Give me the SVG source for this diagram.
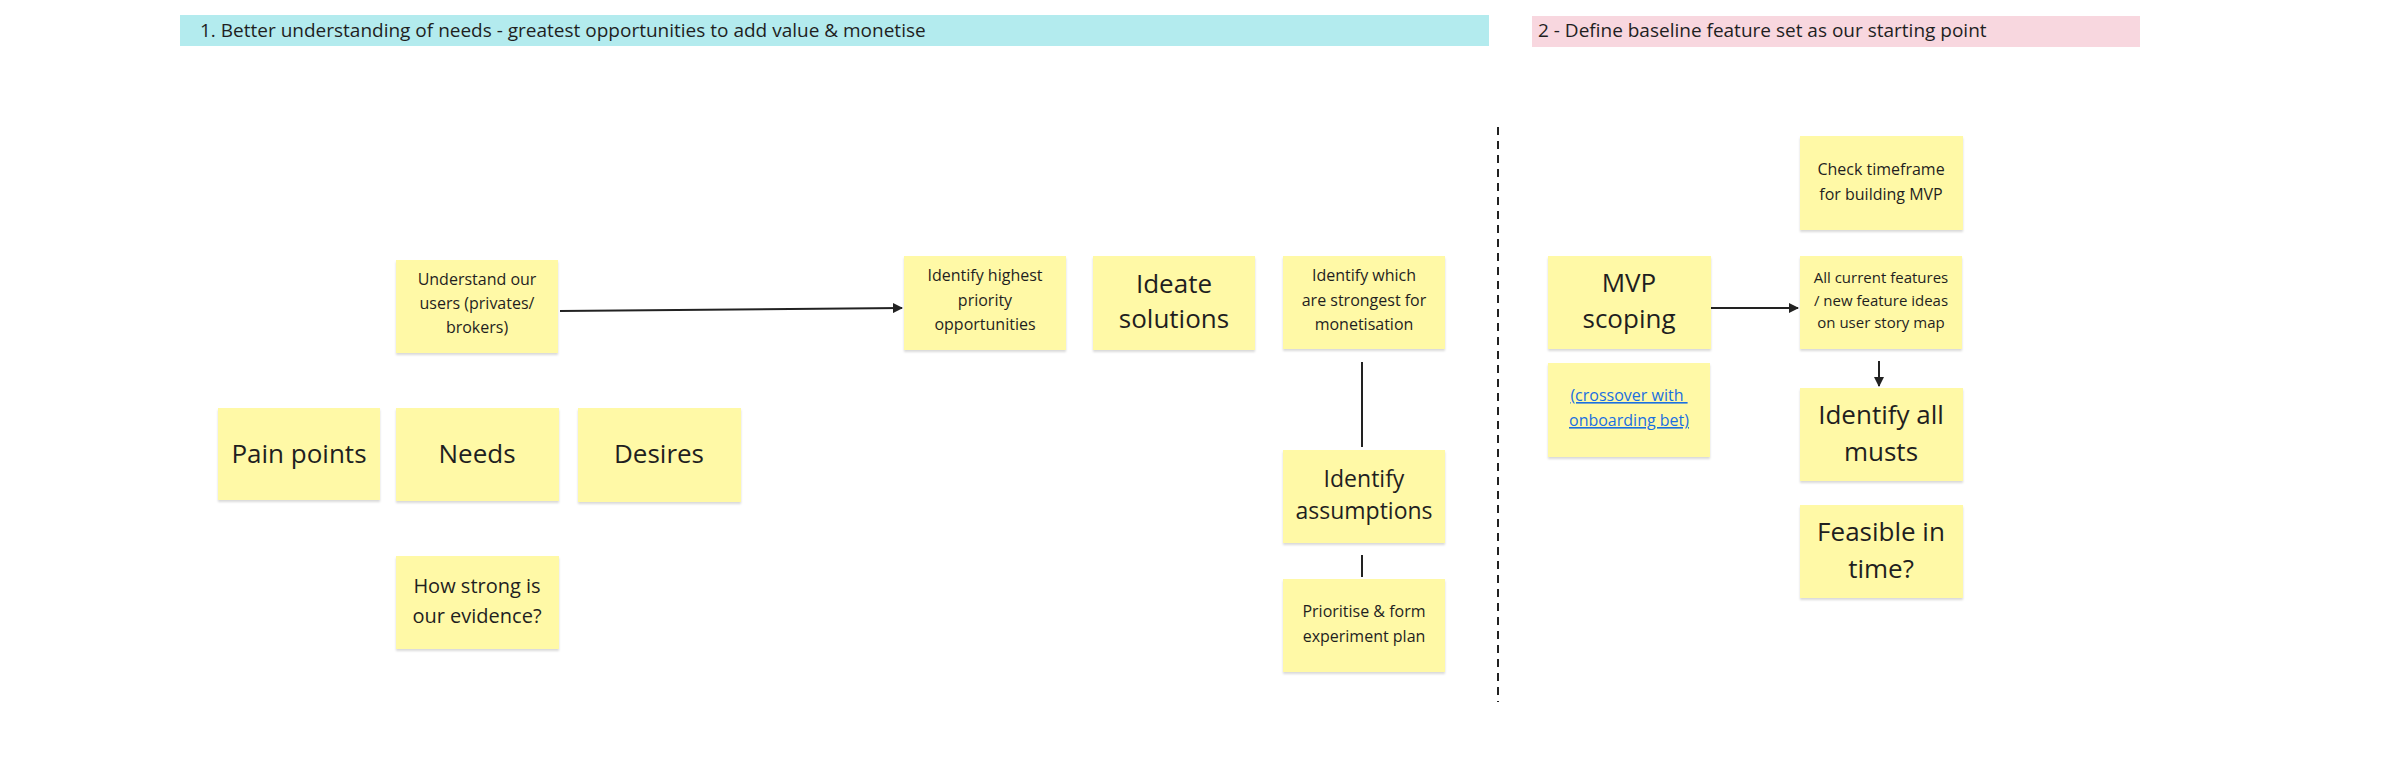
<svg xmlns="http://www.w3.org/2000/svg" width="2400" height="783" viewBox="0 0 2400 783">
<defs>
<style>
.n rect{fill:#fff9a6;filter:url(#sh)}
text{font-family:"Open Sans","Liberation Sans",sans-serif;fill:#1f1f1f;text-anchor:middle}
.s{font-size:16px}.m{font-size:21px}.l{font-size:26px}
.b{font-size:19px;text-anchor:start}
.c{stroke:#222;stroke-width:2;fill:none}
</style>
<filter id="sh" x="-5%" y="-5%" width="110%" height="115%"><feDropShadow dx="0" dy="2" stdDeviation="1.2" flood-color="#000" flood-opacity="0.15"/></filter>
<marker id="ah" viewBox="0 0 10 10" refX="9" refY="5" markerWidth="5" markerHeight="5" orient="auto"><path d="M0,0L10,5L0,10z" fill="#222"/></marker>
</defs>
<rect width="2400" height="783" fill="#fff"/>
<g id="banner1"><rect x="180" y="15" width="1309" height="31" fill="#b3ebee"/><text class="b" x="200" y="37">1. Better understanding of needs - greatest opportunities to add value &amp; monetise</text></g>
<g id="banner2"><rect x="1532" y="16" width="608" height="31" fill="#f8d7df"/><text class="b" x="1538" y="37">2 - Define baseline feature set as our starting point</text></g>
<g id="connectors">
<line class="c" x1="560" y1="311" x2="902" y2="308" marker-end="url(#ah)"/>
<line class="c" x1="1362" y1="362" x2="1362" y2="447"/>
<line class="c" x1="1362" y1="555" x2="1362" y2="577"/>
<line class="c" x1="1498" y1="127" x2="1498" y2="702" stroke-dasharray="8,6"/>
<line class="c" x1="1711" y1="308" x2="1798" y2="308" marker-end="url(#ah)"/>
<line class="c" x1="1879" y1="361" x2="1879" y2="386" marker-end="url(#ah)"/>
</g>
<g id="understand" class="n"><rect x="396" y="260" width="162" height="93"/><text class="s"><tspan x="477" y="285">Understand our</tspan><tspan x="477" y="309">users (privates/</tspan><tspan x="477" y="333">brokers)</tspan></text></g>
<g id="highest" class="n"><rect x="904" y="256" width="162" height="94"/><text class="s"><tspan x="985" y="281">Identify highest</tspan><tspan x="985" y="306">priority</tspan><tspan x="985" y="330">opportunities</tspan></text></g>
<g id="ideate" class="n"><rect x="1093" y="256" width="162" height="94"/><text class="l"><tspan x="1174" y="293">Ideate</tspan><tspan x="1174" y="328">solutions</tspan></text></g>
<g id="which" class="n"><rect x="1283" y="256" width="162" height="93"/><text class="s"><tspan x="1364" y="281">Identify which</tspan><tspan x="1364" y="306">are strongest for</tspan><tspan x="1364" y="330">monetisation</tspan></text></g>
<g id="pain" class="n"><rect x="218" y="408" width="162" height="92"/><text class="l" x="299" y="463">Pain points</text></g>
<g id="needs" class="n"><rect x="396" y="408" width="163" height="93"/><text class="l" x="477" y="463">Needs</text></g>
<g id="desires" class="n"><rect x="578" y="408" width="163" height="94"/><text class="l" x="659" y="463">Desires</text></g>
<g id="evidence" class="n"><rect x="396" y="556" width="163" height="93"/><text style="font-size:20px"><tspan x="477" y="593">How strong is</tspan><tspan x="477" y="623">our evidence?</tspan></text></g>
<g id="assumptions" class="n"><rect x="1283" y="450" width="162" height="93"/><text style="font-size:23px"><tspan x="1364" y="487">Identify</tspan><tspan x="1364" y="519">assumptions</tspan></text></g>
<g id="prioritise" class="n"><rect x="1283" y="579" width="162" height="93"/><text class="s"><tspan x="1364" y="617">Prioritise &amp; form</tspan><tspan x="1364" y="642">experiment plan</tspan></text></g>
<g id="mvp" class="n"><rect x="1548" y="256" width="163" height="93"/><text class="l"><tspan x="1629" y="292">MVP</tspan><tspan x="1629" y="328">scoping</tspan></text></g>
<g id="crossover" class="n"><rect x="1548" y="363" width="162" height="94"/><text class="s" style="fill:#1a6fe0;text-decoration:underline"><tspan x="1629" y="401">(crossover with </tspan><tspan x="1629" y="426">onboarding bet)</tspan></text></g>
<g id="timeframe" class="n"><rect x="1800" y="136" width="163" height="94"/><text class="s"><tspan x="1881" y="175">Check timeframe</tspan><tspan x="1881" y="200">for building MVP</tspan></text></g>
<g id="allcurrent" class="n"><rect x="1800" y="256" width="162" height="93"/><text style="font-size:15px"><tspan x="1881" y="283">All current features</tspan><tspan x="1881" y="306">/ new feature ideas</tspan><tspan x="1881" y="328">on user story map</tspan></text></g>
<g id="musts" class="n"><rect x="1800" y="388" width="163" height="93"/><text class="l"><tspan x="1881" y="424">Identify all</tspan><tspan x="1881" y="461">musts</tspan></text></g>
<g id="feasible" class="n"><rect x="1800" y="505" width="163" height="93"/><text class="l"><tspan x="1881" y="541">Feasible in</tspan><tspan x="1881" y="578">time?</tspan></text></g>
</svg>
